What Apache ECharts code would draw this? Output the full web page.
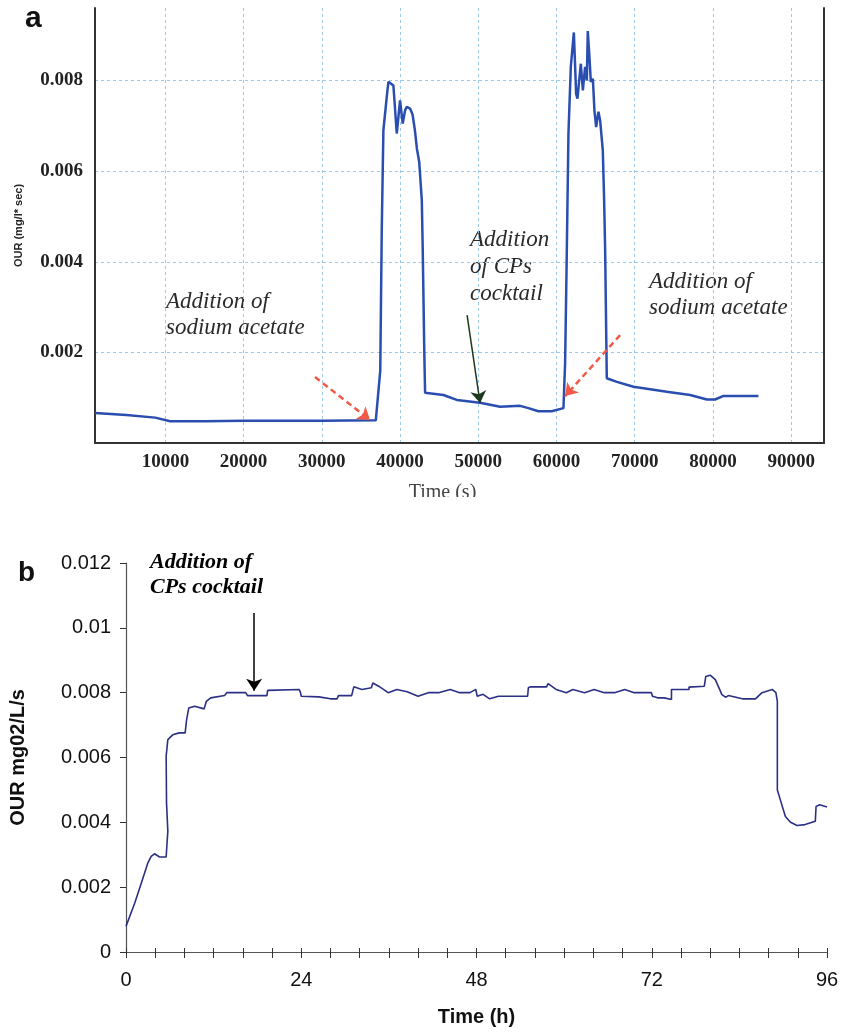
<!DOCTYPE html>
<html>
<head>
<meta charset="UTF-8">
<title>OUR</title>
<style>body{margin:0;background:#fff;}</style>
</head>
<body>
<div id="main" style="width:842px;height:1032px;"></div>
<script src="https://cdn.jsdelivr.net/npm/echarts@6/dist/echarts.min.js"></script>
<script>
// panel a : time (s) / OUR (mg/l*sec)
var timeA = [1000, 5000, 8700, 10600, 15000, 20000, 25000, 30000, 36900, 37100, 37470, 37660, 37870, 38300, 38510, 39150,
  39580, 40000, 40340, 40640, 40860, 41280, 41600, 41900, 42150, 42450, 42780, 42900, 43100, 43200, 45540, 47250,
  50230, 52790, 55350, 56410, 57690, 59400, 60890, 61100, 61300, 61530, 61830, 62090, 62220, 62510, 62680, 63110,
  63370, 63660, 63880, 64000, 64210, 64390, 64650, 64850, 65070, 65360, 65580, 65920, 66090, 66220, 66430, 67720,
  69840, 74110, 77090, 79220, 80280, 81350, 85820];
var ourA = [0.00066, 0.00062, 0.00056, 0.00048, 0.00048, 0.00049, 0.00049, 0.00049, 0.0005, 0.00052, 0.0016, 0.0047, 0.0069, 0.00764, 0.00797, 0.00789,
  0.00683, 0.00756, 0.00705, 0.00734, 0.00742, 0.00738, 0.00725, 0.0069, 0.0065, 0.0062, 0.00536, 0.00426, 0.002, 0.00111, 0.00106, 0.00095,
  0.00089, 0.0008, 0.00082, 0.00077, 0.0007, 0.0007, 0.00077, 0.00176, 0.004, 0.00683, 0.0083, 0.00881, 0.00906, 0.00771, 0.0076, 0.00837,
  0.00778, 0.0083, 0.008, 0.00909, 0.00852, 0.00797, 0.00804, 0.00734, 0.00697, 0.00731, 0.00712, 0.00646, 0.00536, 0.00426, 0.00143, 0.00135,
  0.00124, 0.00113, 0.00106, 0.00096, 0.00096, 0.00104, 0.00104];
var xTicksA = [10000, 20000, 30000, 40000, 50000, 60000, 70000, 80000, 90000];

// panel b : time (h) / OUR mg02/L/s
var timeB = [0, 1.2, 2.1, 3.0, 3.45, 3.9, 4.6, 5.5, 5.6, 5.73, 5.55, 5.5, 5.73, 6.4, 7.3, 8.1, 8.3, 8.6, 9.4, 10.7, 11.0, 11.6,
  13.5, 13.8, 16.4, 16.64, 19.3, 19.4, 19.6, 23.7, 23.9, 24.0, 26.4, 28.0, 28.9, 29.1, 30.9, 31.2, 32.3, 33.6, 33.8, 34.6,
  35.9, 37.1, 38.5, 40.0, 41.4, 42.8, 44.4, 45.7, 47.1, 47.9, 48.1, 48.3, 48.9, 49.8, 51.0, 52.8, 53.0, 53.3, 55.0, 55.1,
  55.4, 57.6, 57.8, 58.9, 60.3, 61.2, 62.8, 64.1, 65.5, 66.9, 68.3, 69.6, 71.96, 72.1, 72.8, 73.7, 74.7, 74.96, 74.7, 77.1,
  77.1, 79.2, 79.4, 80.0, 80.7, 81.3, 81.6, 82.1, 82.5, 84.4, 86.2, 87.1, 88.5, 89.0, 89.2, 89.2, 89.6, 90.3, 91.0, 91.9,
  93.0, 94.4, 94.5, 95.0, 96.0];
var ourB = [0.00079, 0.00151, 0.00213, 0.00275, 0.00295, 0.00303, 0.00293, 0.00293, 0.0033, 0.00372, 0.0046, 0.00604, 0.00655, 0.0067, 0.00676, 0.00676, 0.00717, 0.00753, 0.00758, 0.0075, 0.00773, 0.00784,
  0.00791, 0.008, 0.008, 0.00791, 0.00791, 0.00807, 0.0081, 0.0081, 0.008, 0.00789, 0.00787, 0.00781, 0.00781, 0.00791, 0.00791, 0.00818, 0.0081, 0.00815, 0.0083, 0.0082,
  0.008, 0.0081, 0.00803, 0.00789, 0.008, 0.008, 0.0081, 0.008, 0.008, 0.0081, 0.00789, 0.00785, 0.00795, 0.00781, 0.00789, 0.00789, 0.00784, 0.00789, 0.00789, 0.00815,
  0.00818, 0.00818, 0.00828, 0.0081, 0.008, 0.0081, 0.008, 0.0081, 0.008, 0.008, 0.0081, 0.008, 0.008, 0.00789, 0.00784, 0.00784, 0.00779, 0.00784, 0.0081, 0.0081,
  0.00817, 0.0082, 0.0085, 0.00854, 0.0084, 0.0081, 0.00794, 0.00786, 0.00791, 0.00781, 0.00781, 0.008, 0.0081, 0.008, 0.00773, 0.005, 0.0047, 0.00418, 0.004, 0.0039,
  0.00393, 0.00403, 0.00449, 0.00454, 0.00447];

function zip(xs, ys) {
  var out = [];
  for (var i = 0; i < xs.length; i++) out.push([xs[i], ys[i]]);
  return out;
}

var serifA = "'Liberation Serif', serif";
var sans = "'Liberation Sans', Arial, sans-serif";
var redArrow = { color: '#f05a46', width: 2.5, type: [6, 4] };

var myChart = echarts.init(document.getElementById('main'));
myChart.setOption({
  animation: false,
  backgroundColor: '#fff',
  grid: [
    { left: 95, right: 18, top: 8, bottom: 589 },
    { left: 123, right: 15, top: 563, bottom: 80 }
  ],
  xAxis: [
    {
      gridIndex: 0, type: 'value', min: 1000, max: 94200,
      name: 'Time (s)', nameLocation: 'middle', nameGap: 40,
      nameTextStyle: { fontFamily: serifA, fontSize: 20, color: '#444', padding: [0, 34, 0, 0] },
      axisLine: { lineStyle: { color: '#333', width: 2 } },
      axisTick: { show: false, customValues: xTicksA },
      axisLabel: { customValues: xTicksA, margin: 10, fontFamily: serifA, fontWeight: 'bold', fontSize: 19, color: '#222',
        formatter: function (v) { return String(v); } },
      splitLine: { show: true, lineStyle: { color: '#9cc8ec', type: [3, 3], width: 1 } }
    },
    {
      gridIndex: 1, type: 'value', min: 0, max: 96, interval: 4, position: 'bottom',
      name: 'Time (h)', nameLocation: 'middle', nameGap: 55,
      nameTextStyle: { fontFamily: sans, fontWeight: 'bold', fontSize: 20, color: '#111' },
      axisLine: { lineStyle: { color: '#555', width: 1.2 } },
      axisTick: { length: 6, lineStyle: { color: '#333' } },
      axisLabel: { margin: 18, fontFamily: sans, fontSize: 20, color: '#111',
        formatter: function (v) { return v % 24 === 0 ? String(v) : ''; } },
      splitLine: { show: false }
    },
    {
      gridIndex: 1, type: 'value', min: 0, max: 96, interval: 4, position: 'bottom',
      axisLine: { show: false },
      axisTick: { inside: true, length: 4, lineStyle: { color: '#333' } },
      axisLabel: { show: false },
      splitLine: { show: false }
    }
  ],
  yAxis: [
    {
      gridIndex: 0, type: 'value', min: 0, max: 0.0096, interval: 0.002,
      name: 'OUR (mg/l* sec)', nameLocation: 'middle', nameGap: 71,
      nameTextStyle: { fontFamily: sans, fontWeight: 'bold', fontSize: 11, color: '#222' },
      axisLine: { show: true, lineStyle: { color: '#333', width: 2 } },
      axisTick: { show: false },
      axisLabel: { margin: 12, fontFamily: serifA, fontWeight: 'bold', fontSize: 19, color: '#222',
        formatter: function (v) { return (v > 0.001 && v < 0.0091) ? v.toFixed(3) : ''; } },
      splitLine: { show: true, showMaxLine: false, lineStyle: { color: '#9cc8ec', type: [3, 3], width: 1 } }
    },
    {
      gridIndex: 0, type: 'value', min: 0, max: 0.0096, position: 'right',
      axisLine: { show: true, lineStyle: { color: '#333', width: 2 } },
      axisTick: { show: false }, axisLabel: { show: false }, splitLine: { show: false }
    },
    {
      gridIndex: 1, type: 'value', min: 0, max: 0.012, interval: 0.002,
      name: 'OUR mg02/L/s', nameLocation: 'middle', nameGap: 98,
      nameTextStyle: { fontFamily: sans, fontWeight: 'bold', fontSize: 20, color: '#111' },
      axisLine: { show: true, lineStyle: { color: '#555', width: 1.2 } },
      axisTick: { show: true, length: 6, lineStyle: { color: '#333' } },
      axisLabel: { margin: 15, fontFamily: sans, fontSize: 20, color: '#111' },
      splitLine: { show: false }
    }
  ],
  series: [
    {
      type: 'line', xAxisIndex: 0, yAxisIndex: 0, data: zip(timeA, ourA),
      showSymbol: false, lineStyle: { color: '#2a4db0', width: 2.5 },
      markLine: {
        silent: true, symbol: ['none', 'arrow'], symbolSize: 12, label: { show: false },
        data: [
          [{ coord: [29130, 0.001455], lineStyle: redArrow, itemStyle: { color: '#f05a46' } }, { coord: [36160, 0.000507] }],
          [{ coord: [48570, 0.00282], lineStyle: { color: '#1e3a1e', width: 1.5, type: 'solid' }, itemStyle: { color: '#1e3a1e' } }, { coord: [50230, 0.000882] }],
          [{ coord: [68130, 0.00238], lineStyle: redArrow, itemStyle: { color: '#f05a46' } }, { coord: [61100, 0.001036] }]
        ]
      }
    },
    {
      type: 'line', xAxisIndex: 1, yAxisIndex: 2, data: zip(timeB, ourB),
      showSymbol: false, lineStyle: { color: '#2b3085', width: 1.6 },
      markLine: {
        silent: true, symbol: ['none', 'arrow'], symbolSize: 12, label: { show: false },
        data: [
          [{ coord: [17.55, 0.01046], lineStyle: { color: '#000', width: 1.5, type: 'solid' }, itemStyle: { color: '#000' } }, { coord: [17.55, 0.00806] }]
        ]
      }
    }
  ],
  graphic: [
    { type: 'rect', z: 100, shape: { x: 0, y: 497, width: 842, height: 10 }, style: { fill: '#fff' } },
    { type: 'text', x: 25, y: 18.5, style: { text: 'a', font: 'bold 30px ' + sans, fill: '#111', textVerticalAlign: 'middle' } },
    { type: 'text', x: 18, y: 573.6, style: { text: 'b', font: 'bold 28px ' + sans, fill: '#111', textVerticalAlign: 'middle' } },
    { type: 'text', x: 166, y: 289, style: { text: 'Addition of\nsodium acetate', font: 'italic 23px ' + serifA, lineHeight: 26, fill: '#2a2a2a', textVerticalAlign: 'top' } },
    { type: 'text', x: 470, y: 226.5, style: { text: 'Addition\nof CPs\ncocktail', font: 'italic 23px ' + serifA, lineHeight: 27, fill: '#2a2a2a', textVerticalAlign: 'top' } },
    { type: 'text', x: 649, y: 269, style: { text: 'Addition of\nsodium acetate', font: 'italic 23px ' + serifA, lineHeight: 26, fill: '#2a2a2a', textVerticalAlign: 'top' } },
    { type: 'text', x: 150, y: 550.5, style: { text: 'Addition of\nCPs cocktail', font: 'italic bold 22px ' + serifA, lineHeight: 24.5, fill: '#000', textVerticalAlign: 'top' } }
  ]
});
</script>
</body>
</html>
